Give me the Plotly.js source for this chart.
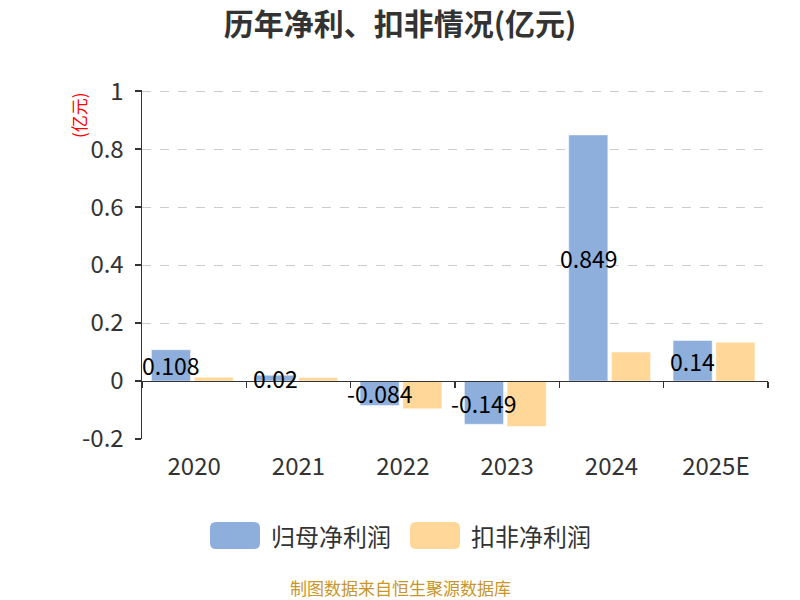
<!DOCTYPE html>
<html>
<head>
<meta charset="utf-8">
<script src="https://cdn.plot.ly/plotly-3.0.1.min.js"></script>
<style>
  html, body { margin: 0; padding: 0; background: #fff; }
  #chart { width: 800px; height: 600px; }
</style>
</head>
<body>
<div id="chart"></div>
<script>
const years = ['2020', '2021', '2022', '2023', '2024', '2025E'];
const netProfit = [0.108, 0.02, -0.084, -0.149, 0.849, 0.14];
const deductedProfit = [0.013, 0.012, -0.096, -0.157, 0.10, 0.134];
const netLabels = ['0.108', '0.02', '-0.084', '-0.149', '0.849', '0.14'];
const seriesNames = ['归母净利润', '扣非净利润'];
const yTicks = [-0.2, 0, 0.2, 0.4, 0.6, 0.8, 1];
const yTickText = ['-0.2', '0', '0.2', '0.4', '0.6', '0.8', '1'];

const FONT = '"Noto Sans CJK SC", "Noto Sans", sans-serif';
const BLUE = '#8eaedb';
const ORANGE = '#ffd899';
const yMin = -0.2, yMax = 1;

// plot area in pixels
const PL = 142, PR = 768, PT = 90, PB = 439;
const px2x = px => (px - PL) / (PR - PL);
const px2y = py => (PB - py) / (PB - PT);

// bar placement inside each category (category units)
const blueOffset = -0.41, orangeOffset = 0.0, barWidth = 0.375;

const traces = [
    {
        type: 'bar', name: seriesNames[0], x: years, y: netProfit,
        offset: blueOffset, width: barWidth,
        marker: { color: BLUE, line: { color: '#fff', width: 0.5 } }
    },
    {
        type: 'bar', name: seriesNames[1], x: years, y: deductedProfit,
        offset: orangeOffset, width: barWidth,
        marker: { color: ORANGE, line: { color: '#fff', width: 0.5 } }
    },
    // helper trace so the zero-line axis (ticks at category boundaries) is drawn
    {
        type: 'scatter', mode: 'none', x: years.map((_, i) => i), y: netProfit,
        xaxis: 'x2', showlegend: false, hoverinfo: 'skip'
    }
];

const annotations = netLabels.map((t, i) => ({
    x: i + blueOffset + barWidth / 2, y: netProfit[i] / 2, xref: 'x', yref: 'y',
    text: t, showarrow: false, font: { family: FONT, size: 23, color: '#000' }
}));

annotations.push({
    xref: 'paper', yref: 'paper', x: px2x(79), y: px2y(115),
    xanchor: 'center', yanchor: 'middle',
    text: '(亿元)', textangle: -90, showarrow: false,
    font: { family: FONT, size: 17, color: '#ff0000' }
});
annotations.push({
    xref: 'paper', yref: 'paper', x: px2x(400), y: px2y(587),
    xanchor: 'center', yanchor: 'middle',
    text: '制图数据来自恒生聚源数据库', showarrow: false,
    font: { family: FONT, size: 17, color: '#c8962a' }
});

// legend drawn by hand: rounded swatches like the original
function roundRect(x0, y0, x1, y1, r) {
    const P = (x, y) => px2x(x) + ',' + px2y(y);
    return 'M' + P(x0 + r, y0) + ' L' + P(x1 - r, y0) + ' Q' + P(x1, y0) + ' ' + P(x1, y0 + r) +
        ' L' + P(x1, y1 - r) + ' Q' + P(x1, y1) + ' ' + P(x1 - r, y1) +
        ' L' + P(x0 + r, y1) + ' Q' + P(x0, y1) + ' ' + P(x0, y1 - r) +
        ' L' + P(x0, y0 + r) + ' Q' + P(x0, y0) + ' ' + P(x0 + r, y0) + ' Z';
}
const legendX = [210, 410], legendColors = [BLUE, ORANGE];
const shapes = legendX.map((lx, i) => ({
    type: 'path', xref: 'paper', yref: 'paper',
    path: roundRect(lx, 522, lx + 50, 549, 6),
    fillcolor: legendColors[i], line: { width: 0 }
}));
legendX.forEach((lx, i) => annotations.push({
    xref: 'paper', yref: 'paper', x: px2x(lx + 59), y: px2y(535),
    xanchor: 'left', yanchor: 'middle', text: seriesNames[i], showarrow: false,
    font: { family: FONT, size: 24, color: '#333' }
}));

const layout = {
    width: 800, height: 600,
    margin: { l: PL, r: 800 - PR, t: PT, b: 600 - PB },
    paper_bgcolor: '#fff', plot_bgcolor: '#fff',
    font: { family: FONT, color: '#333' },
    title: {
        text: '<b>历年净利、扣非情况(亿元)</b>',
        font: { family: FONT, size: 30, color: '#333' },
        x: 0.5, xref: 'container', xanchor: 'center',
        y: 1 - 24 / 600, yref: 'container', yanchor: 'middle'
    },
    showlegend: false,
    xaxis: {
        type: 'category', range: [-0.5, 5.5],
        showgrid: false, zeroline: false, showline: false, ticks: '',
        tickfont: { family: FONT, size: 24, color: '#333' },
        ticklabelstandoff: 11, fixedrange: true
    },
    xaxis2: {
        overlaying: 'x', anchor: 'free', position: (0 - yMin) / (yMax - yMin),
        range: [-0.5, 5.5], tickmode: 'array',
        tickvals: years.map((_, i) => i - 0.5).concat([years.length - 0.5]),
        showticklabels: false, showgrid: false, zeroline: false,
        showline: true, linecolor: '#333', linewidth: 1.5,
        ticks: 'outside', ticklen: 6, tickcolor: '#333', tickwidth: 1.5
    },
    yaxis: {
        range: [yMin, yMax + 0.004], tickmode: 'array', tickvals: yTicks, ticktext: yTickText,
        showgrid: true, gridcolor: '#cccccc', griddash: 'dash', gridwidth: 1,
        zeroline: false, showline: true, linecolor: '#333', linewidth: 1.5,
        ticks: 'outside', ticklen: 6, tickcolor: '#333', tickwidth: 1.5,
        tickfont: { family: FONT, size: 24, color: '#333' }, ticklabelstandoff: 6,
        fixedrange: true
    },
    shapes: shapes,
    annotations: annotations
};

Plotly.newPlot('chart', traces, layout, { displayModeBar: false, staticPlot: true });
</script>
</body>
</html>
